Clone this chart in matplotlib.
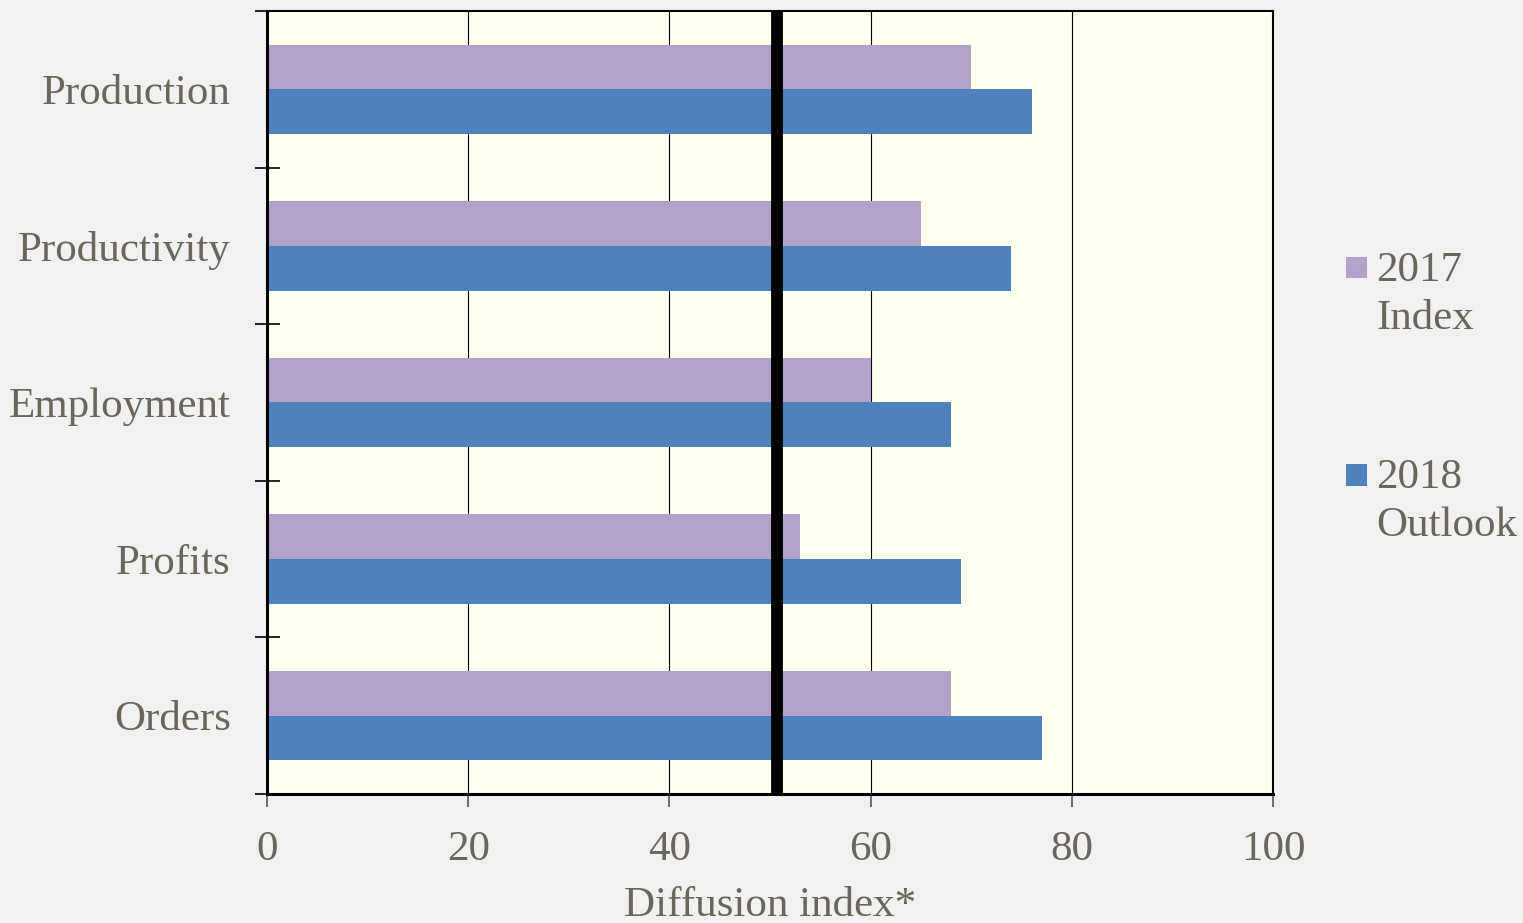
import matplotlib.pyplot as plt
from matplotlib.patches import Rectangle
import numpy as np

plt.rcParams['font.family'] = ['Liberation Serif', 'DejaVu Serif']

categories = ['Production', 'Productivity', 'Employment', 'Profits', 'Orders']
index_2017 = [70, 65, 60, 53, 68]
outlook_2018 = [76, 74, 68, 69, 77]
series_labels = ['2017\nIndex', '2018\nOutlook']
threshold = 50.7

purple = '#b3a2c7'
blue = '#4f81bd'
txt = '#6b665b'

fig = plt.figure(figsize=(15.23, 9.23), dpi=100, facecolor='#f1f1f1')
ax = fig.add_axes([0.1753, 0.1398, 0.6606, 0.8483])
ax.set_facecolor('#fffff0')

y = np.arange(len(categories))
h = 0.285
ax.barh(y - h / 2, index_2017, height=h, color=purple, zorder=2)
ax.barh(y + h / 2, outlook_2018, height=h, color=blue, zorder=2)

ax.axvline(threshold, color='black', lw=8.5, zorder=3)

ax.set_xlim(0, 100)
ax.set_ylim(len(categories) - 0.5, -0.5)
ax.set_xticks(np.arange(0, 101, 20))
ax.grid(axis='x', color='black', lw=0.8, zorder=1)

ax.set_yticks(np.arange(-0.5, len(categories), 1.0))
ax.set_yticklabels([])
ax.set_yticks(y, minor=True)
ax.set_yticklabels(categories, minor=True)
ax.tick_params(axis='y', which='major', direction='inout', length=18, width=1.2, color='black')
ax.tick_params(axis='y', which='minor', length=0, pad=26, labelsize=31, labelcolor=txt)
ax.tick_params(axis='x', direction='out', length=9, width=1.2, color='#555555',
               pad=17, labelsize=31, labelcolor=txt)

for side in ['left', 'bottom']:
    ax.spines[side].set_linewidth(2.2)
for side in ['top', 'right']:
    ax.spines[side].set_linewidth(1.5)

ax.set_xlabel('Diffusion index*', fontsize=31, color=txt, labelpad=13)

# legend drawn by hand so the swatch sits next to the first line
for lab, col, yt in zip(series_labels, [purple, blue], [0.711, 0.486]):
    fig.patches.append(Rectangle((1346 / 1523, yt - 0.0125), 21 / 1523, 0.0235,
                                 transform=fig.transFigure, facecolor=col, edgecolor='none'))
    fig.text(1376 / 1523, yt + 0.017, lab, fontsize=31, color=txt, va='top',
             ha='left', linespacing=1.33)

fig.savefig('out.png', dpi=100, facecolor=fig.get_facecolor())
